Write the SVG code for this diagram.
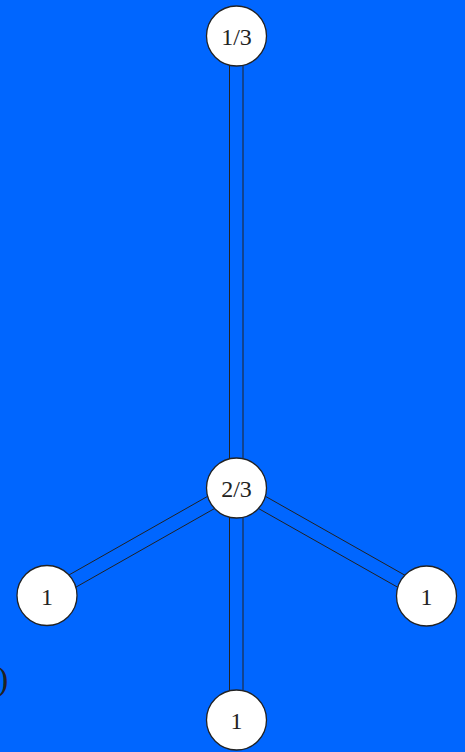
<svg xmlns="http://www.w3.org/2000/svg" width="465" height="752" viewBox="0 0 465 752">
<style>
.bg{fill:#0066ff}
.edge{stroke:#222;stroke-width:1;fill:none}
.node circle{fill:#fff;stroke:#222;stroke-width:1.3}
.node text{font-family:"Liberation Serif","Times New Roman",serif;font-size:24px;fill:#222;text-anchor:middle}
.paren{font-family:"Liberation Serif","Times New Roman",serif;font-size:34px;fill:#222}
</style>
<rect class="bg" x="0" y="0" width="465" height="752"/>
<g id="connectors">
<line class="edge" x1="229.5" y1="36" x2="229.5" y2="488"/>
<line class="edge" x1="243" y1="36" x2="243" y2="488"/>
<line class="edge" x1="229.5" y1="488" x2="229.5" y2="720"/>
<line class="edge" x1="243" y1="488" x2="243" y2="720"/>
<line class="edge" x1="239.95" y1="494.1" x2="50.45" y2="601.6"/>
<line class="edge" x1="233.05" y1="481.9" x2="43.55" y2="589.4"/>
<line class="edge" x1="233.05" y1="494.1" x2="423.05" y2="601.6"/>
<line class="edge" x1="239.95" y1="481.9" x2="429.95" y2="589.4"/>
</g>
<g id="n_top" class="node"><circle cx="236.5" cy="36" r="30"/><text x="236.5" y="45">1/3</text></g>
<g id="n_mid" class="node"><circle cx="236.5" cy="488" r="30"/><text x="236.5" y="497">2/3</text></g>
<g id="n_left" class="node"><circle cx="47" cy="595.5" r="30"/><text x="47" y="604.5">1</text></g>
<g id="n_right" class="node"><circle cx="426.5" cy="596" r="30"/><text x="426.5" y="605">1</text></g>
<g id="n_bottom" class="node"><circle cx="236.5" cy="720" r="30"/><text x="236.5" y="729">1</text></g>
<text class="paren" x="-3" y="690">)</text>
</svg>
